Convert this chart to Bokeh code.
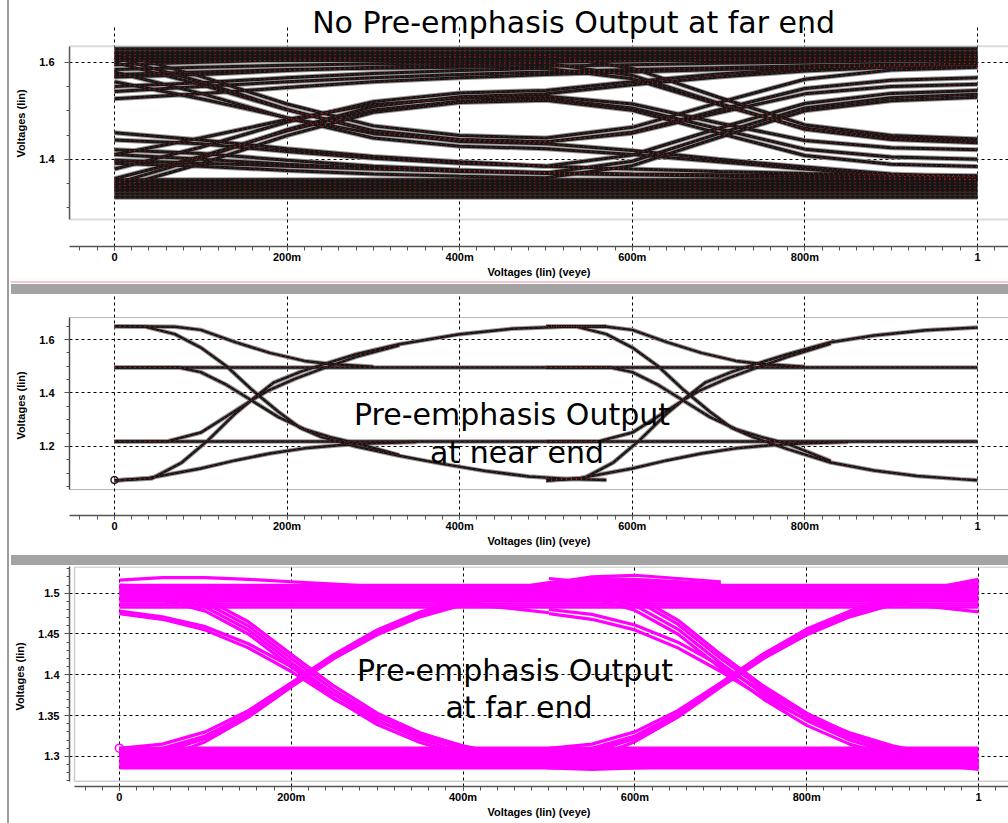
from bokeh.plotting import figure
from bokeh.layouts import column, row
from bokeh.models import FixedTicker, BoxAnnotation, Label, Div, Range1d
from bokeh.embed import file_html
from bokeh.resources import INLINE

# ------------------------------------------------------------------ axes data
X_TICKS = [0, 0.2, 0.4, 0.6, 0.8, 1]
X_TICK_LABELS = ["0", "200m", "400m", "600m", "800m", "1"]
X_MINOR = [round(-0.06 + 0.02 * i, 2) for i in range(56)]

P1_Y_TICKS = [1.4, 1.6]
P1_Y_LABELS = ["1.4", "1.6"]
P1_Y_MINOR = [1.3, 1.35, 1.45, 1.5, 1.55]

P2_Y_TICKS = [1.2, 1.4, 1.6]
P2_Y_LABELS = ["1.2", "1.4", "1.6"]
P2_Y_MINOR = [1.05, 1.1, 1.15, 1.25, 1.3, 1.35, 1.45, 1.5, 1.55, 1.65]

P3_Y_TICKS = [1.3, 1.35, 1.4, 1.45, 1.5]
P3_Y_LABELS = ["1.3", "1.35", "1.4", "1.45", "1.5"]
P3_Y_MINOR = [1.27, 1.28, 1.29, 1.31, 1.32, 1.33, 1.34, 1.36, 1.37, 1.38, 1.39,
              1.41, 1.42, 1.43, 1.44, 1.46, 1.47, 1.48, 1.49, 1.51, 1.52, 1.53]

# ------------------------------------------------------------------ panel 1 data (no pre-emphasis, far end)
P1_X = [0, 0.1, 0.2, 0.3, 0.4, 0.5, 0.6, 0.7, 0.8, 0.9, 1.0]
P1_TOP_BAND = [1.628, 1.622, 1.616, 1.610, 1.604]
P1_BOTTOM_BAND = [1.322, 1.328, 1.334, 1.340, 1.346, 1.352, 1.358]
P1_HLH = [[1.600, 1.554, 1.502, 1.459, 1.441, 1.436, 1.456, 1.502, 1.546, 1.563, 1.568],
          [1.560, 1.525, 1.486, 1.453, 1.440, 1.436, 1.454, 1.496, 1.535, 1.550, 1.555],
          [1.620, 1.571, 1.514, 1.469, 1.449, 1.444, 1.466, 1.517, 1.565, 1.584, 1.590]]
P1_LHL = [[1.360, 1.406, 1.459, 1.502, 1.520, 1.525, 1.506, 1.463, 1.421, 1.405, 1.400],
          [1.410, 1.444, 1.482, 1.513, 1.526, 1.530, 1.514, 1.475, 1.439, 1.424, 1.420],
          [1.340, 1.391, 1.449, 1.497, 1.517, 1.522, 1.501, 1.454, 1.408, 1.390, 1.385]]
P1_HLL = [[1.580, 1.536, 1.485, 1.444, 1.427, 1.422, 1.410, 1.395, 1.380, 1.366, 1.358],
          [1.610, 1.560, 1.503, 1.457, 1.437, 1.432, 1.418, 1.400, 1.384, 1.370, 1.362]]
P1_LHH = [[1.380, 1.425, 1.477, 1.519, 1.537, 1.542, 1.560, 1.576, 1.587, 1.594, 1.598],
          [1.350, 1.402, 1.461, 1.509, 1.529, 1.535, 1.554, 1.570, 1.582, 1.590, 1.594]]
P1_HHL = [[1.570, 1.575, 1.583, 1.590, 1.595, 1.598, 1.573, 1.516, 1.462, 1.441, 1.434],
          [1.550, 1.558, 1.568, 1.577, 1.583, 1.588, 1.566, 1.513, 1.464, 1.444, 1.438],
          [1.595, 1.600, 1.605, 1.609, 1.612, 1.614, 1.588, 1.528, 1.471, 1.449, 1.442]]
P1_LLH = [[1.440, 1.432, 1.416, 1.402, 1.392, 1.386, 1.409, 1.464, 1.515, 1.536, 1.542],
          [1.420, 1.412, 1.398, 1.386, 1.378, 1.372, 1.396, 1.453, 1.506, 1.527, 1.534],
          [1.392, 1.386, 1.377, 1.370, 1.365, 1.362, 1.387, 1.445, 1.500, 1.521, 1.528]]
P1_HHH = [[1.525, 1.535, 1.548, 1.560, 1.568, 1.575, 1.580, 1.585, 1.589, 1.592, 1.594],
          [1.540, 1.550, 1.560, 1.568, 1.575, 1.580, 1.585, 1.589, 1.593, 1.596, 1.598],
          [1.585, 1.590, 1.594, 1.597, 1.599, 1.600, 1.603, 1.606, 1.608, 1.610, 1.612],
          [1.575, 1.580, 1.585, 1.588, 1.590, 1.592, 1.595, 1.598, 1.600, 1.603, 1.605]]
P1_LLL = [[1.455, 1.440, 1.422, 1.406, 1.395, 1.386, 1.380, 1.375, 1.371, 1.368, 1.366],
          [1.410, 1.400, 1.390, 1.381, 1.375, 1.371, 1.368, 1.365, 1.362, 1.360, 1.358],
          [1.398, 1.392, 1.386, 1.380, 1.376, 1.373, 1.370, 1.368, 1.366, 1.365, 1.364]]

# ------------------------------------------------------------------ panel 2 data (pre-emphasis, near end)
P2_FLAT_LEVELS = [1.495, 1.219]
P2_TOP_DECAY_L = ([0, 0.07, 0.1, 0.14, 0.18, 0.22, 0.25, 0.3], [1.65, 1.648, 1.636, 1.59, 1.55, 1.52, 1.508, 1.498])
P2_TOP_FALL_L = ([0, 0.035, 0.07, 0.1, 0.13, 0.16, 0.19, 0.215, 0.24, 0.28, 0.33, 0.38, 0.43, 0.48, 0.53, 0.57],
                 [1.65, 1.648, 1.62, 1.57, 1.5, 1.41, 1.33, 1.27, 1.235, 1.2, 1.165, 1.135, 1.108, 1.088, 1.078, 1.075])
P2_MID_FALL_L = ([0, 0.075, 0.1, 0.13, 0.16, 0.19, 0.22, 0.25, 0.28, 0.33],
                 [1.495, 1.495, 1.478, 1.43, 1.37, 1.31, 1.265, 1.235, 1.212, 1.168])
P2_BOT_RISE_L = ([0, 0.043, 0.078, 0.108, 0.139, 0.163, 0.185, 0.216, 0.24, 0.28, 0.33, 0.4, 0.46, 0.52, 0.57],
                 [1.073, 1.08, 1.14, 1.222, 1.32, 1.385, 1.44, 1.48, 1.505, 1.545, 1.582, 1.62, 1.64, 1.648, 1.65])
P2_MID_RISE_L = ([0, 0.062, 0.1, 0.131, 0.16, 0.178, 0.209, 0.24, 0.28, 0.33],
                 [1.219, 1.22, 1.252, 1.315, 1.375, 1.409, 1.453, 1.49, 1.535, 1.578])
P2_BOT_DECAY_L = ([0, 0.04, 0.1, 0.14, 0.18, 0.22, 0.26, 0.3, 0.35],
                  [1.073, 1.082, 1.118, 1.148, 1.174, 1.193, 1.205, 1.212, 1.217])
P2_TOP_DECAY_R = ([0.5, 0.57, 0.6, 0.64, 0.68, 0.72, 0.75, 0.8], [1.65, 1.648, 1.636, 1.59, 1.55, 1.52, 1.508, 1.498])
P2_TOP_FALL_R = ([0.5, 0.535, 0.57, 0.6, 0.63, 0.66, 0.69, 0.715, 0.74, 0.78, 0.83, 0.88, 0.93, 0.98, 1.0],
                 [1.65, 1.648, 1.62, 1.57, 1.5, 1.41, 1.33, 1.27, 1.235, 1.19, 1.14, 1.11, 1.09, 1.078, 1.074])
P2_MID_FALL_R = ([0.5, 0.575, 0.6, 0.63, 0.66, 0.69, 0.72, 0.75, 0.78, 0.83],
                 [1.495, 1.495, 1.478, 1.43, 1.37, 1.31, 1.265, 1.235, 1.21, 1.145])
P2_BOT_RISE_R = ([0.5, 0.543, 0.578, 0.608, 0.639, 0.663, 0.685, 0.716, 0.74, 0.78, 0.83, 0.88, 0.94, 1.0],
                 [1.073, 1.08, 1.14, 1.222, 1.32, 1.385, 1.44, 1.48, 1.505, 1.545, 1.59, 1.615, 1.635, 1.645])
P2_MID_RISE_R = ([0.5, 0.562, 0.6, 0.631, 0.66, 0.678, 0.709, 0.74, 0.78, 0.83],
                 [1.219, 1.22, 1.252, 1.315, 1.375, 1.409, 1.453, 1.49, 1.535, 1.585])
P2_BOT_DECAY_R = ([0.5, 0.54, 0.6, 0.64, 0.68, 0.72, 0.76, 0.8, 0.85],
                  [1.073, 1.082, 1.118, 1.148, 1.174, 1.193, 1.205, 1.212, 1.217])
P2_START = ([0], [1.075])

# ------------------------------------------------------------------ panel 3 data (pre-emphasis, far end)
P3_TOP_BAND = [1.4825, 1.485, 1.4875, 1.49, 1.4925, 1.495, 1.4975, 1.50, 1.5025, 1.505, 1.5075, 1.51]
P3_BOTTOM_BAND = [1.2855, 1.288, 1.2905, 1.293, 1.2955, 1.298, 1.3005, 1.303, 1.3055, 1.308, 1.3105]
P3_T_LEFT = [0, 0.05, 0.1, 0.15, 0.2, 0.25, 0.3, 0.35, 0.4, 0.45, 0.5, 0.55, 0.6, 0.7]
P3_FALL_LEFT = [[1.475, 1.468, 1.455, 1.433, 1.404, 1.370, 1.343, 1.324, 1.310, 1.300, 1.294, 1.291, 1.290, 1.292],
                [1.478, 1.471, 1.459, 1.438, 1.410, 1.376, 1.348, 1.328, 1.313, 1.302, 1.295, 1.291, 1.290, 1.292],
                [1.500, 1.497, 1.483, 1.455, 1.415, 1.376, 1.344, 1.321, 1.305, 1.294, 1.288, 1.286, 1.287, 1.290],
                [1.505, 1.502, 1.488, 1.460, 1.420, 1.381, 1.349, 1.325, 1.309, 1.297, 1.290, 1.287, 1.288, 1.291],
                [1.495, 1.492, 1.478, 1.450, 1.410, 1.371, 1.339, 1.317, 1.302, 1.292, 1.286, 1.284, 1.286, 1.289],
                [1.510, 1.507, 1.493, 1.465, 1.425, 1.386, 1.353, 1.329, 1.312, 1.300, 1.292, 1.289, 1.289, 1.291]]
P3_RISE_LEFT = [[1.310, 1.315, 1.330, 1.356, 1.390, 1.425, 1.455, 1.477, 1.493, 1.505, 1.513, 1.518, 1.517, 1.511],
                [1.305, 1.310, 1.325, 1.352, 1.387, 1.422, 1.452, 1.474, 1.490, 1.502, 1.510, 1.515, 1.515, 1.509],
                [1.298, 1.305, 1.322, 1.350, 1.386, 1.421, 1.450, 1.472, 1.488, 1.499, 1.507, 1.512, 1.513, 1.508],
                [1.290, 1.298, 1.318, 1.348, 1.385, 1.420, 1.449, 1.471, 1.486, 1.497, 1.504, 1.510, 1.512, 1.507],
                [1.302, 1.308, 1.324, 1.351, 1.388, 1.424, 1.454, 1.476, 1.492, 1.504, 1.512, 1.520, 1.522, 1.514]]
P3_T_RIGHT = [0.5, 0.55, 0.6, 0.65, 0.7, 0.75, 0.8, 0.85, 0.9, 0.95, 1.0]
P3_FALL_RIGHT = [[1.475, 1.468, 1.455, 1.433, 1.404, 1.372, 1.345, 1.325, 1.310, 1.300, 1.294],
                 [1.480, 1.474, 1.461, 1.440, 1.411, 1.379, 1.350, 1.329, 1.313, 1.302, 1.295],
                 [1.505, 1.500, 1.485, 1.456, 1.414, 1.376, 1.344, 1.320, 1.304, 1.293, 1.287],
                 [1.512, 1.507, 1.492, 1.462, 1.420, 1.382, 1.349, 1.324, 1.307, 1.296, 1.290],
                 [1.498, 1.494, 1.479, 1.450, 1.408, 1.370, 1.338, 1.315, 1.300, 1.290, 1.284],
                 [1.518, 1.513, 1.497, 1.467, 1.425, 1.386, 1.353, 1.328, 1.310, 1.298, 1.291]]
P3_RISE_RIGHT = [[1.310, 1.315, 1.330, 1.356, 1.390, 1.425, 1.455, 1.477, 1.493, 1.505, 1.513],
                 [1.305, 1.310, 1.325, 1.352, 1.387, 1.422, 1.452, 1.474, 1.490, 1.502, 1.510],
                 [1.298, 1.305, 1.322, 1.350, 1.386, 1.421, 1.450, 1.472, 1.488, 1.499, 1.507],
                 [1.290, 1.298, 1.318, 1.348, 1.385, 1.420, 1.449, 1.471, 1.486, 1.497, 1.504],
                 [1.302, 1.308, 1.324, 1.351, 1.390, 1.426, 1.456, 1.478, 1.495, 1.507, 1.517]]
P3_OVERSHOOT_LEFT = ([0, 0.05, 0.1, 0.15, 0.2, 0.25, 0.3], [1.516, 1.519, 1.519, 1.517, 1.514, 1.511, 1.508])
P3_LEADIN_MID = ([0.25, 0.35, 0.45, 0.5], [1.497, 1.492, 1.482, 1.476])
P3_LEADIN_END = ([0.75, 0.85, 0.95, 1.0], [1.498, 1.493, 1.483, 1.477])
P3_START = ([0], [1.31])

# ------------------------------------------------------------------ texts
TITLE_1 = "No Pre-emphasis Output at far end"
TEXT_2 = ["Pre-emphasis Output", "at near end"]
TEXT_3 = ["Pre-emphasis Output", "at far end"]
Y_LABEL = "Voltages (lin)"
X_LABEL = "Voltages (lin) (veye)"

FIG_W = 997
BORDER_L = 57
TICK_FONT = "Liberation Sans"
BIG_FONT = "DejaVu Sans"


def make_panel(height, top, frame_h, xr, yr, box, box_color, box_width,
               yticks, ylabels, yminor, label_standoff, axis_label_standoff):
    bottom = height - top - frame_h
    p = figure(width=FIG_W, height=height, x_range=Range1d(*xr), y_range=Range1d(*yr),
               output_backend="svg", toolbar_location=None, title=None,
               min_border_left=BORDER_L, min_border_right=0, min_border_top=top,
               min_border_bottom=bottom, background_fill_color="white",
               border_fill_color="white")
    p.outline_line_color = None

    xt = FixedTicker(ticks=X_TICKS, minor_ticks=X_MINOR)
    p.xaxis.ticker = xt
    p.xgrid.ticker = xt
    p.xaxis.major_label_overrides = dict(zip(X_TICKS, X_TICK_LABELS))
    p.xaxis.bounds = (box[2], xr[1] + 0.05)
    yt = FixedTicker(ticks=yticks, minor_ticks=yminor)
    p.yaxis.ticker = yt
    p.ygrid.ticker = yt
    p.yaxis.major_label_overrides = dict(zip(yticks, ylabels))
    p.yaxis.bounds = (box[0], box[1])

    for g in (p.xgrid, p.ygrid):
        g.grid_line_color = "black"
        g.grid_line_dash = "3 3"
        g.grid_line_width = 1

    for ax in (p.xaxis, p.yaxis):
        ax.axis_line_color = "#555555"
        ax.axis_line_width = 1.5
        ax.major_tick_line_color = "#555555"
        ax.minor_tick_line_color = "#555555"
        ax.major_tick_in = 0
        ax.minor_tick_in = 0
        ax.major_tick_out = 5
        ax.minor_tick_out = 3
        ax.major_label_text_font = TICK_FONT
        ax.major_label_text_font_style = "bold"
        ax.major_label_text_font_size = "11px"
        ax.major_label_text_color = "black"
        ax.axis_label_text_font = TICK_FONT
        ax.axis_label_text_font_style = "bold"
        ax.axis_label_text_font_size = "11px"
        ax.axis_label_text_color = "black"
    p.xaxis.major_tick_out = 4
    p.xaxis.minor_tick_out = 4
    p.xaxis.major_label_standoff = 0
    p.xaxis.axis_label_standoff = 0
    p.yaxis.major_label_standoff = label_standoff
    p.yaxis.axis_label_standoff = axis_label_standoff
    p.xaxis.axis_label = X_LABEL
    p.yaxis.axis_label = Y_LABEL

    p.add_layout(BoxAnnotation(left=box[2], right=xr[1] + 0.05, bottom=box[0], top=box[1],
                               fill_color=None, fill_alpha=0, line_color=box_color,
                               line_width=box_width))
    return p


def dark_traces(p, xs, ys, width):
    p.multi_line(xs=xs, ys=ys, line_color="#9a9a9a", line_width=width + 2)
    p.multi_line(xs=xs, ys=ys, line_color="#161616", line_width=width)
    p.multi_line(xs=xs, ys=ys, line_color="#e02020", line_width=1, line_dash="1 4", line_alpha=0.85)


def big_text(p, x, y, text):
    p.add_layout(Label(x=x, y=y, text=text, text_align="center", text_baseline="alphabetic",
                       text_font=BIG_FONT, text_font_size="30px", text_color="black"))


# ------------------------------------------------------------------ panel 1
# frame reaches the top of the canvas so the title is not clipped; the strip above
# the plot area is masked white so the grid starts where the reference's does
p1 = make_panel(281, 0, 246, (-0.0521, 1.0359), (1.2203, 1.7275), (1.276, 1.633, -0.0521),
                "#888888", 2, P1_Y_TICKS, P1_Y_LABELS, P1_Y_MINOR, 10, 9)
p1.add_layout(BoxAnnotation(bottom=1.676, fill_color="white", fill_alpha=1, line_color=None,
                            level="underlay"))
xs1, ys1 = [], []
for lvl in P1_TOP_BAND + P1_BOTTOM_BAND:
    xs1.append([P1_X[0], P1_X[-1]])
    ys1.append([lvl, lvl])
for grp in (P1_HHH, P1_LLL, P1_HLH, P1_LHL, P1_HLL, P1_LHH, P1_HHL, P1_LLH):
    for tr in grp:
        xs1.append(P1_X)
        ys1.append(tr)
dark_traces(p1, xs1, ys1, 3)
big_text(p1, 0.532, 1.6825, TITLE_1)

# ------------------------------------------------------------------ panel 2
p2 = make_panel(260, 1, 220, (-0.0521, 1.0359), (0.942, 1.7645), (1.039, 1.682, -0.0521),
                "#111111", 1, P2_Y_TICKS, P2_Y_LABELS, P2_Y_MINOR, 10, 9)
curves2 = [P2_TOP_DECAY_L, P2_TOP_FALL_L, P2_MID_FALL_L, P2_BOT_RISE_L, P2_MID_RISE_L,
           P2_BOT_DECAY_L, P2_TOP_DECAY_R, P2_TOP_FALL_R, P2_MID_FALL_R, P2_BOT_RISE_R,
           P2_MID_RISE_R, P2_BOT_DECAY_R]
xs2 = [[0, 1] for _ in P2_FLAT_LEVELS] + [c[0] for c in curves2]
ys2 = [[v, v] for v in P2_FLAT_LEVELS] + [c[1] for c in curves2]
dark_traces(p2, xs2, ys2, 2.5)
p2.scatter(x=P2_START[0], y=P2_START[1], marker="circle", size=7, fill_color=None,
           line_color="#222222", line_width=1.5)
big_text(p2, 0.4606, 1.3196, TEXT_2[0])
big_text(p2, 0.4664, 1.1775, TEXT_2[1])

# ------------------------------------------------------------------ panel 3
p3 = make_panel(258, 1, 220, (-0.0581, 1.0349), (1.2631, 1.5327), (1.2694, 1.5322, -0.0523),
                "#555555", 1.5, P3_Y_TICKS, P3_Y_LABELS, P3_Y_MINOR, 5, 9)
band_x, band_y = [], []
for lvl in P3_TOP_BAND + P3_BOTTOM_BAND:
    band_x.append([0, 1])
    band_y.append([lvl, lvl])
p3.multi_line(xs=band_x, ys=band_y, line_color="#ff00ff", line_width=2.5)
xs3, ys3 = [], []
for tr in P3_FALL_LEFT + P3_RISE_LEFT:
    xs3.append(P3_T_LEFT)
    ys3.append(tr)
for tr in P3_FALL_RIGHT + P3_RISE_RIGHT:
    xs3.append(P3_T_RIGHT)
    ys3.append(tr)
for c in (P3_OVERSHOOT_LEFT, P3_LEADIN_MID, P3_LEADIN_END):
    xs3.append(c[0])
    ys3.append(c[1])
p3.multi_line(xs=xs3, ys=ys3, line_color="#ff00ff", line_width=3.2)
p3.scatter(x=P3_START[0], y=P3_START[1], marker="circle", size=8, fill_color=None,
           line_color="#ff00ff", line_width=1.5)
big_text(p3, 0.4605, 1.4053, TEXT_3[0])
big_text(p3, 0.4651, 1.3599, TEXT_3[1])

# ------------------------------------------------------------------ separators & layout
sep1 = Div(text='<div style="width:997px;height:2px;background:#f6c4cb"></div>'
                '<div style="width:997px;height:1px;background:#ffffff"></div>'
                '<div style="width:997px;height:10px;background:#a3a3a3"></div>',
           width=FIG_W, height=13, margin=0)
sep2 = Div(text='<div style="width:997px;height:10px;background:#a3a3a3"></div>'
                '<div style="width:997px;height:1px;background:#ffffff"></div>',
           width=FIG_W, height=11, margin=0)
left_border = Div(text='<div style="margin-left:7px;width:2px;height:823px;background:#9c9c9c"></div>',
                  width=11, height=823, margin=0)

layout = row(left_border, column(p1, sep1, p2, sep2, p3, spacing=0), spacing=0)

open("out.html", "w").write(file_html(layout, INLINE, title="Eye diagrams"))
